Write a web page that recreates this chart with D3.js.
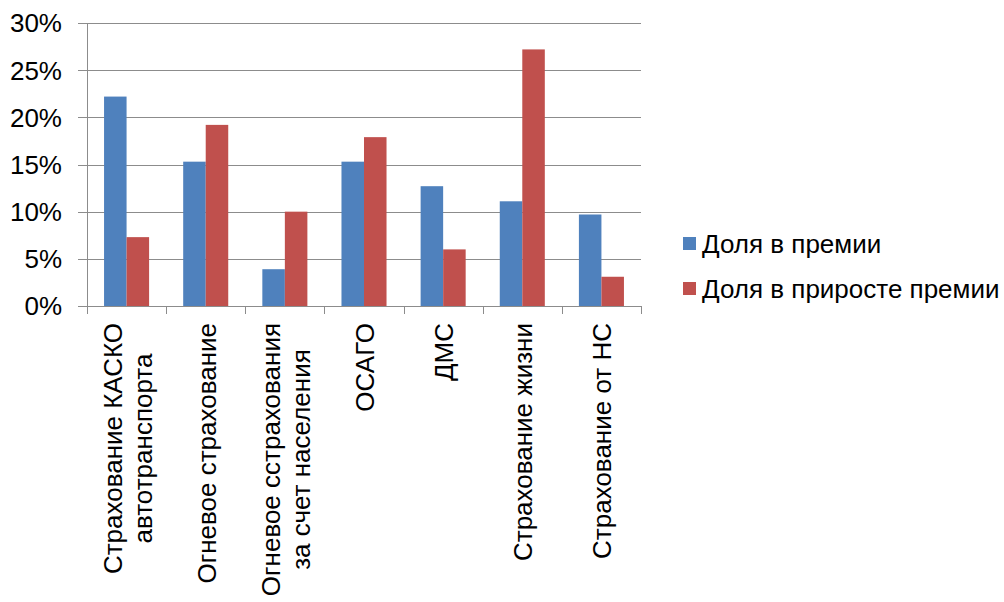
<!DOCTYPE html>
<html>
<head>
<meta charset="utf-8">
<script src="https://cdn.jsdelivr.net/npm/d3@7"></script>
<style>
  body { margin: 0; background: #fff; }
  svg { display: block; font-family: "Liberation Sans", Arial, sans-serif; }
</style>
</head>
<body>
<svg width="1004" height="602"></svg>
<script>
var categories = [
    ["Страхование КАСКО", "автотранспорта"],
    ["Огневое страхование"],
    ["Огневое сстрахования", "за счет населения"],
    ["ОСАГО"],
    ["ДМС"],
    ["Страхование жизни"],
    ["Страхование от НС"]
];
var seriesNames = ["Доля в премии", "Доля в приросте премии"];
var premiumShare = [22.2, 15.3, 3.9, 15.3, 12.7, 11.1, 9.7];
var growthShare = [7.3, 19.2, 10.0, 17.9, 6.0, 27.2, 3.1];
var yTicks = [0, 5, 10, 15, 20, 25, 30];

var svg = d3.select("svg"),
    plot = {left: 87, right: 641, top: 23, bottom: 306};

var colors = d3.scaleOrdinal().domain(seriesNames).range(["#4f81bd", "#c0504d"]);

var idx = d3.range(categories.length);
var x0 = d3.scaleBand().domain(idx).range([plot.left, plot.right]).paddingInner(0).paddingOuter(0);
var x1 = d3.scaleBand().domain(seriesNames).range([0, x0.bandwidth()]).paddingInner(0).paddingOuter(0.757);
var y = d3.scaleLinear().domain([0, 30]).range([plot.bottom, plot.top]);

// gridlines
svg.append("g")
    .selectAll("line")
    .data(yTicks)
    .enter().append("line")
    .attr("x1", plot.left - 9).attr("x2", plot.right)
    .attr("y1", function(d) { return Math.round(y(d)) + 0.5; })
    .attr("y2", function(d) { return Math.round(y(d)) + 0.5; })
    .attr("stroke", "#8c8c8c").attr("stroke-width", 1);

// y axis line
svg.append("line")
    .attr("x1", plot.left + 0.5).attr("x2", plot.left + 0.5)
    .attr("y1", plot.top).attr("y2", plot.bottom + 8)
    .attr("stroke", "#8c8c8c");

// x ticks
svg.append("g")
    .selectAll("line")
    .data(d3.range(categories.length + 1))
    .enter().append("line")
    .attr("x1", function(i) { return Math.round(plot.left + i * x0.step()) + 0.5; })
    .attr("x2", function(i) { return Math.round(plot.left + i * x0.step()) + 0.5; })
    .attr("y1", plot.bottom).attr("y2", plot.bottom + 8)
    .attr("stroke", "#8c8c8c");

// y labels
svg.append("g")
    .selectAll("text")
    .data(yTicks)
    .enter().append("text")
    .attr("x", 62)
    .attr("y", function(d) { return y(d); })
    .attr("dy", "0.36em")
    .attr("text-anchor", "end")
    .attr("font-size", 26)
    .attr("fill", "#000")
    .text(function(d) { return d + "%"; });

// bars
var data = idx.map(function(i) { return [premiumShare[i], growthShare[i]]; });
svg.append("g")
    .selectAll("g")
    .data(data)
    .enter().append("g")
    .attr("transform", function(d, i) { return "translate(" + x0(i) + ",0)"; })
    .selectAll("rect")
    .data(function(d) { return d.map(function(v, j) { return {key: seriesNames[j], value: v}; }); })
    .enter().append("rect")
    .attr("x", function(d) { return x1(d.key); })
    .attr("width", x1.bandwidth())
    .attr("y", function(d) { return y(d.value); })
    .attr("height", function(d) { return plot.bottom - y(d.value); })
    .attr("fill", function(d) { return colors(d.key); });

// category labels, rotated
var labels = svg.append("g")
    .selectAll("g")
    .data(categories)
    .enter().append("g")
    .attr("font-size", 26)
    .attr("fill", "#000");

labels.each(function(lines, i) {
    var g = d3.select(this);
    var cx = x0(i) + x0.bandwidth() / 2;
    var texts = g.selectAll("text").data(lines).enter().append("text")
        .attr("text-anchor", "middle")
        .attr("y", function(d, k) { return 10 + (k - (lines.length - 1) / 2) * 30; })
        .text(function(d) { return d; });
    var w = 0;
    texts.each(function() { w = Math.max(w, this.getComputedTextLength()); });
    texts.attr("x", -w / 2);
    g.attr("transform", "translate(" + cx + ",323) rotate(-90)");
});

// legend
var legend = svg.append("g")
    .selectAll("g")
    .data(seriesNames)
    .enter().append("g")
    .attr("transform", function(d, i) { return "translate(683," + (237 + i * 45) + ")"; });

legend.append("rect")
    .attr("width", 13).attr("height", 13)
    .attr("fill", colors);

legend.append("text")
    .attr("x", 19).attr("y", 16)
    .attr("font-size", 26)
    .attr("fill", "#000")
    .text(function(d) { return d; });
</script>
</body>
</html>
